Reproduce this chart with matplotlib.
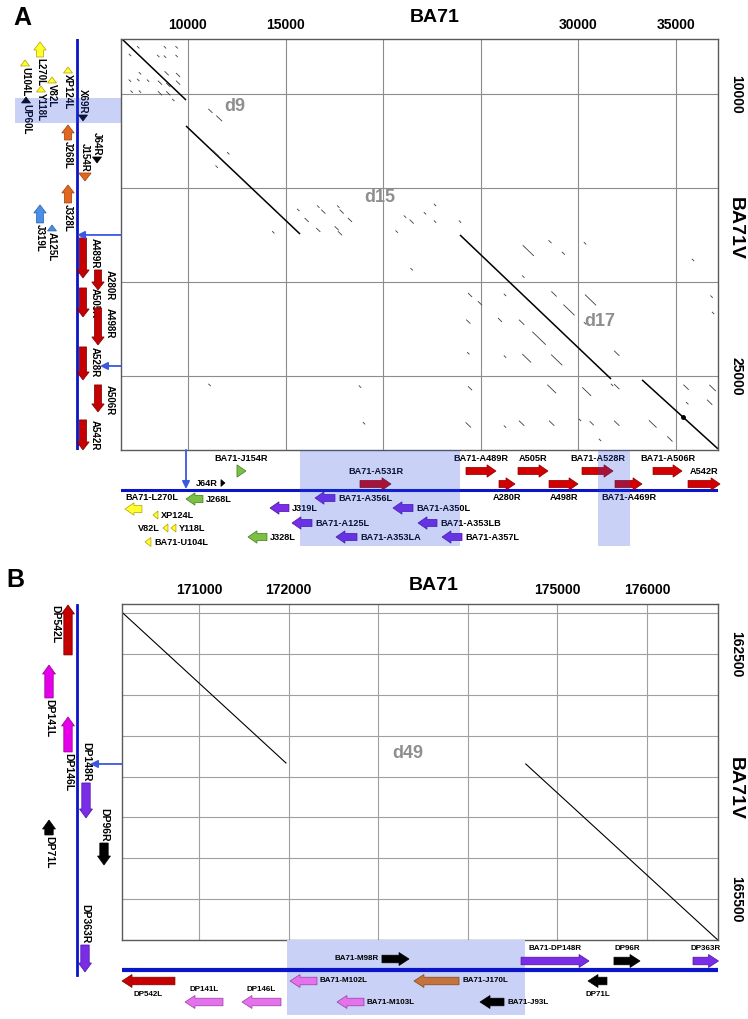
import matplotlib
matplotlib.use("Agg")
import matplotlib.pyplot as plt
from matplotlib.patches import Polygon, Rectangle

plt.rcParams['font.family'] = ['Liberation Sans', 'DejaVu Sans']
plt.rcParams['font.weight'] = 'bold'

W, H = 748, 1019

# ---------------- panel A : BA71 (x) vs BA71V (y), bp ----------------
a_xlim = (6570, 37150)
a_ylim = (28940, 7075)
a_xgrid = [10000, 15000, 20000, 25000, 30000, 35000]
a_xlabels = ['10000', '15000', '', '', '30000', '35000']
a_ygrid = [10000, 15000, 20000, 25000]
a_ylabels = ['10000', '', '', '25000']

# main alignment segments ((x0, y0), (x1, y1))
a_diag = [((6620, 7075), (9900, 10320)),
          ((9900, 11700), (15740, 17450)),
          ((23935, 17500), (31670, 25160)),
          ((33260, 25210), (37150, 28880))]

# short repeat hits: centre x, centre y, length
a_dash_x = [7454, 8822, 9421, 7029, 8479, 8822, 9421, 7541, 8909, 9493, 7029, 7454, 7956,
            8566, 8991, 9493, 7116, 7541, 8566, 8991, 9247,
            11150, 11600, 11419, 12065, 11470,
            15651, 16081, 16675, 16931, 17700, 17874, 18299, 16675, 17618, 17787, 14370,
            20692, 21117, 21459, 22141, 22654, 22654, 23935,
            21459, 24447, 24959, 24359, 24359, 24447, 24359, 26240, 25984, 26240, 27434,
            28545, 29228, 27178, 28750, 29518, 27092, 27984, 27349, 28888, 26240, 27092,
            28631, 28631, 30338, 30620, 30338, 30424, 30082, 31106, 31963, 31963, 31963,
            30682, 33806, 34683, 35574, 36722, 31722, 35515, 19016, 18812, 11107,
            35871, 36822, 36897, 36870]
a_dash_y = [7516, 7516, 7516, 7926, 7979, 8016, 7979, 8899, 8899, 8989, 9293, 9255, 9293,
            9399, 9521, 9399, 9876, 9876, 9963, 9963, 10319,
            10900, 11300, 13154, 13154, 13867,
            16170, 16702, 15993, 16259, 15993, 16259, 16702, 17234, 17144, 17410, 17357,
            17322, 16524, 16790, 16347, 15904, 16790, 16790,
            19324, 20692, 21135, 22110, 23793, 25655, 27605, 20692, 22022, 23971, 18332,
            17856, 18474, 19716, 20639, 21489, 22144, 22995, 24058, 24149, 27695, 27516,
            25692, 27516, 17942, 20957, 22197, 25834, 27340, 28404, 23793, 25568, 27516,
            27516, 27553, 28351, 26452, 26399, 25479, 25600, 27516, 25568, 25479,
            18830, 20782, 21650, 25638]
a_dash_len = [150, 150, 150, 150, 150, 150, 150, 150, 300, 300, 150, 150, 150,
              300, 300, 300, 150, 150, 300, 300, 150,
              300, 450, 500, 150, 150,
              150, 300, 150, 300, 150, 300, 300, 300, 300, 300, 150,
              150, 150, 300, 150, 150, 150, 150,
              150, 300, 300, 300, 150, 300, 400, 150, 300, 150, 900,
              200, 200, 150, 400, 900, 400, 1100, 700, 900, 150, 400,
              700, 400, 150, 900, 150, 700, 150, 150, 400, 400, 400,
              300, 600, 400, 150, 400, 150, 400, 150, 150, 150,
              150, 150, 150, 500]
a_spot = (35360, 27180)

a_deletions = ['d9', 'd15', 'd17']
a_del_x = [12408, 19836, 31107]
a_del_y = [10691, 15532, 22127]

# genes along BA71 (bottom track): name, start, end, strand, family
a_bottom = [("BA71-J154R", 12510, 12971, "R", "green"),
            ("J64R", 11691, 11896, "R", "black"),
            ("BA71-A531R", 18812, 20400, "R", "red"),
            ("BA71-A489R", 24242, 25779, "R", "red"),
            ("A505R", 26906, 28443, "R", "red"),
            ("BA71-A528R", 30185, 31773, "R", "red"),
            ("BA71-A506R", 33822, 35308, "R", "red"),
            ("A542R", 35615, 37255, "R", "red"),
            ("A280R", 25932, 26752, "R", "red"),
            ("A498R", 28494, 29980, "R", "red"),
            ("BA71-A469R", 31875, 33258, "R", "red"),
            ("BA71-L270L", 6773, 7643, "L", "yellow"),
            ("J268L", 9898, 10768, "L", "green"),
            ("XP124L", 8207, 8463, "L", "yellow"),
            ("V82L", 8719, 8975, "L", "yellow"),
            ("Y118L", 9129, 9385, "L", "yellow"),
            ("BA71-U104L", 7797, 8105, "L", "yellow"),
            ("J319L", 14201, 15174, "L", "purple"),
            ("J328L", 13074, 14047, "L", "green"),
            ("BA71-A356L", 16506, 17531, "L", "purple"),
            ("BA71-A125L", 15328, 16353, "L", "purple"),
            ("BA71-A353LA", 17582, 18658, "L", "purple"),
            ("BA71-A350L", 20502, 21527, "L", "purple"),
            ("BA71-A353LB", 21783, 22756, "L", "purple"),
            ("BA71-A357L", 23012, 24037, "L", "purple")]
# lane (pixel row) and label side for each bottom gene
a_bottom_lay = [(471, 'above'), (483, 'left'), (484, 'above'), (471, 'above'), (471, 'above'),
                (471, 'above'), (471, 'above'), (484, 'above'), (484, 'below'), (484, 'below'),
                (484, 'below'), (509, 'above_l'), (499, 'right'), (515, 'right'), (528, 'left'),
                (528, 'right'), (542, 'right'), (508, 'right'), (537, 'right'), (498, 'right'),
                (523, 'right'), (537, 'right'), (508, 'right'), (523, 'right'), (537, 'right')]

# genes along BA71V (left track)
a_left = [("L270L", 7234, 8032, "L", "yellow"),
          ("U104L", 8192, 8511, "L", "yellow"),
          ("XP124L", 8564, 8883, "L", "yellow"),
          ("V82L", 9096, 9415, "L", "yellow"),
          ("Y118L", 9574, 9894, "L", "yellow"),
          ("UP60L", 10160, 10479, "L", "black"),
          ("X69R", 11117, 11436, "R", "black"),
          ("J268L", 11649, 12447, "L", "orange"),
          ("J64R", 13351, 13670, "R", "black"),
          ("J154R", 14202, 14628, "R", "orange"),
          ("J328L", 14840, 15798, "L", "orange"),
          ("J319L", 15904, 16861, "L", "blue"),
          ("A125L", 16968, 17287, "L", "blue"),
          ("A489R", 17659, 19787, "R", "darkred"),
          ("A280R", 19361, 20425, "R", "darkred"),
          ("A505R", 20319, 21861, "R", "darkred"),
          ("A498R", 21383, 23351, "R", "darkred"),
          ("A528R", 23457, 25213, "R", "darkred"),
          ("A506R", 25478, 26914, "R", "darkred"),
          ("A542R", 27340, 28936, "R", "darkred")]
a_left_lay = [(40, 'below'), (25, 'below'), (68, 'below'), (52, 'below'), (41, 'below'),
              (26, 'below'), (83, 'above'), (68, 'below'), (97, 'above'), (85, 'above'),
              (68, 'below'), (40, 'below'), (52, 'below'), (83, 'right'), (98, 'right'),
              (83, 'right'), (98, 'right'), (83, 'right'), (98, 'right'), (83, 'right')]

a_shade_x = [(15738, 23935), (31004, 32644)]
a_shade_y = (10213, 11542)
a_pointer_y = [17500, 24470]
a_pointer_x = 9900

# ---------------- panel B ----------------
b_xlim = (170141, 176792)
b_ylim = (165998, 161890)
b_xgrid = [171000, 172000, 173000, 174000, 175000, 176000]
b_xlabels = ['171000', '172000', '', '', '175000', '176000']
b_ygrid = [162000, 162500, 163000, 163500, 164000, 164500, 165000, 165500]
b_ylabels = ['', '162500', '', '', '', '', '', '165500']
b_diag = [((170150, 162000), (171971, 163834)),
          ((174647, 163846), (176790, 165998))]
b_del_x, b_del_y = 173332, 163712

b_bottom = [("BA71-M98R", 173042, 173344, "R", "black"),
            ("BA71-DP148R", 174594, 175353, "R", "purple"),
            ("DP96R", 175631, 175922, "R", "black"),
            ("DP363R", 176513, 176798, "R", "purple"),
            ("DP542L", 170141, 170732, "L", "darkred"),
            ("DP141L", 170844, 171268, "L", "orchid"),
            ("DP146L", 171480, 171915, "L", "orchid"),
            ("BA71-M102L", 172016, 172317, "L", "orchid"),
            ("BA71-J170L", 173399, 173902, "L", "brown"),
            ("BA71-M103L", 172540, 172841, "L", "orchid"),
            ("BA71-J93L", 174136, 174404, "L", "black"),
            ("DP71L", 175341, 175553, "L", "black")]
b_bottom_lay = [(959, 'left'), (961, 'above'), (961, 'above'), (961, 'above'), (981, 'below'),
                (1002, 'above'), (1002, 'above'), (981, 'right'), (981, 'right'),
                (1002, 'right'), (1002, 'right'), (981, 'below')]

b_left = [("DP542L", 161902, 162513, "L", "darkred"),
          ("DP141L", 162636, 163039, "L", "magenta"),
          ("DP146L", 163271, 163699, "L", "magenta"),
          ("DP148R", 164078, 164506, "R", "purple"),
          ("DP71L", 164531, 164714, "L", "black"),
          ("DP96R", 164812, 165081, "R", "black"),
          ("DP363R", 166059, 166389, "R", "purple")]
b_left_lay = [(68, 'left'), (49, 'below'), (68, 'below'), (86, 'above'), (49, 'below'),
              (104, 'above'), (85, 'above')]
b_shade_x = (171982, 174638)
b_pointer_y = 163846

colors = {"yellow": ("#ffff2e", "#b0a000"), "orange": ("#e2661e", "#9a4010"),
          "blue": ("#4a8fe6", "#2a5fa8"), "darkred": ("#c40000", "#7a0000"),
          "red": ("#d20000", "#8a0000"), "black": ("#000000", "#000000"),
          "green": ("#7cc043", "#3d7a1e"), "purple": ("#7a2ce6", "#4a12a0"),
          "magenta": ("#e400e8", "#900090"), "orchid": ("#e472ec", "#9a3aa0"),
          "brown": ("#c4733c", "#80451c")}
LINE = "#0a14c8"
POINT = "#3a58e0"
SHADE = "#2848e0"
SHADE_B = "#c9d1f7"
DEL = "#8e8e8e"

fig = plt.figure(figsize=(W / 100, H / 100), dpi=100)


def px_axes(l, t, r, b):
    return fig.add_axes([l / W, 1 - b / H, (r - l) / W, (b - t) / H])


def ftext(x, y, s, **kw):
    fig.text(x / W, 1 - y / H, s, **kw)


def gene(ax, s, e, strand, lane, fam, upp, vertical, body, head, hl):
    fc, ec = colors[fam]
    L = e - s
    if L < hl * upp:
        head = min(head, 0.55 * L / upp + 1.2)
        body = min(body, head)
    hlen = min(hl * upp, L)
    if strand == "R":
        tip, base, neck = e, s, e - hlen
    else:
        tip, base, neck = s, e, s + hlen
    pts = [(base, lane - body), (neck, lane - body), (neck, lane - head), (tip, lane),
           (neck, lane + head), (neck, lane + body), (base, lane + body)]
    if vertical:
        pts = [(q, p) for p, q in pts]
    ax.add_patch(Polygon(pts, closed=True, fc=fc, ec=ec, lw=0.5, clip_on=False, zorder=3))


def h_label(ax, name, s, e, lane, side, upp, fs):
    off = dict(above=(0.5 * (s + e), lane - 12.5, 'center'),
               above_l=(s, lane - 11.5, 'left'),
               below=(0.5 * (s + e), lane + 13, 'center'),
               right=(e + 3 * upp, lane, 'left'),
               left=(s - 3 * upp, lane, 'right'))[side]
    ax.text(off[0], off[1], name, ha=off[2], va='center', fontsize=fs, clip_on=False, zorder=4)


def v_label(ax, name, s, e, col, side, upp, fs):
    if side == 'below':
        ax.text(col, e + 1.5 * upp, name, rotation=-90, ha='center', va='top', fontsize=fs)
    elif side == 'above':
        ax.text(col, s - 1.5 * upp, name, rotation=-90, ha='center', va='bottom', fontsize=fs)
    elif side == 'right':
        ax.text(col + 12, s, name, rotation=-90, ha='center', va='top', fontsize=fs)
    else:
        ax.text(col - 13, s, name, rotation=-90, ha='center', va='top', fontsize=fs)


def dotplot(ax, xlim, ylim, xg, xl, yg, yl, gcol):
    ax.set_xlim(xlim)
    ax.set_ylim(ylim)
    ax.set_xticks(xg)
    ax.set_xticklabels(xl)
    ax.set_yticks(yg)
    ax.set_yticklabels(yl)
    ax.xaxis.tick_top()
    ax.yaxis.tick_right()
    ax.tick_params(length=0, labelsize=10, pad=5)
    ax.tick_params(axis='y', labelrotation=-90, pad=8)
    for lab in ax.get_yticklabels():
        lab.set_va('center')
    ax.grid(True, color=gcol, lw=0.8)
    ax.set_axisbelow(True)
    for sp in ax.spines.values():
        sp.set_color('#5a5a5a')
        sp.set_linewidth(1.0)


# ================= panel A =================
axA = px_axes(121, 39, 718, 450)
dotplot(axA, a_xlim, a_ylim, a_xgrid, a_xlabels, a_ygrid, a_ylabels, '#8c8c8c')
for (x0, y0), (x1, y1) in a_diag:
    axA.plot([x0, x1], [y0, y1], color='black', lw=1.1, solid_capstyle='butt')
for x, y, L in zip(a_dash_x, a_dash_y, a_dash_len):
    h = 0.3 * L
    axA.plot([x - h, x + h], [y - h, y + h], color='#3c3c3c', lw=0.6)
axA.plot(*a_spot, 'o', color='black', ms=2.5)
for name, x, y in zip(a_deletions, a_del_x, a_del_y):
    axA.text(x, y, name, color=DEL, fontsize=13, ha='center', va='center')

upp_ax = (a_xlim[1] - a_xlim[0]) / (718 - 121)
upp_ay = (a_ylim[0] - a_ylim[1]) / (450 - 39)

trA = px_axes(121, 450, 718, 550)
trA.set_xlim(a_xlim)
trA.set_ylim(550, 450)
trA.axis('off')
trA.axhline(490, color=LINE, lw=2.2, zorder=2)
for (name, s, e, strand, fam), (lane, side) in zip(a_bottom, a_bottom_lay):
    gene(trA, s, e, strand, lane, fam, upp_ax, False, 3.6, 6.2, 9)
    h_label(trA, name, s, e, lane, side, upp_ax, 6.6)
for x0, x1 in a_shade_x:
    trA.add_patch(Rectangle((x0, 450), x1 - x0, 96, fc=SHADE, alpha=0.25, lw=0, zorder=5))
trA.annotate('', xy=(a_pointer_x, 489), xytext=(a_pointer_x, 450),
             arrowprops=dict(arrowstyle='-|>', color=POINT, lw=1.3, mutation_scale=11,
                             shrinkA=0, shrinkB=0))

tlA = px_axes(0, 39, 121, 450)
tlA.set_xlim(0, 121)
tlA.set_ylim(a_ylim)
tlA.axis('off')
tlA.axvline(77, color=LINE, lw=2.0, zorder=2)
for (name, s, e, strand, fam), (col, side) in zip(a_left, a_left_lay):
    gene(tlA, s, e, strand, col, fam, upp_ay, True, 3.6, 6.2, 8)
    v_label(tlA, name, s, e, col, side, upp_ay, 7)
tlA.add_patch(Rectangle((15, a_shade_y[0]), 106, a_shade_y[1] - a_shade_y[0],
                        fc=SHADE, alpha=0.25, lw=0, zorder=5))
for y in a_pointer_y:
    tlA.annotate('', xy=(77 if y == a_pointer_y[0] else 100, y), xytext=(121, y),
                 arrowprops=dict(arrowstyle='-|>', color=POINT, lw=1.3, mutation_scale=11,
                                 shrinkA=0, shrinkB=0))

ftext(22, 18, 'A', fontsize=18, ha='center', va='center')
ftext(435, 17, 'BA71', fontsize=14, ha='center', va='center')
ftext(735, 228, 'BA71V', fontsize=14, ha='center', va='center', rotation=-90)

# ================= panel B =================
axB = px_axes(122, 604, 718, 940)
dotplot(axB, b_xlim, b_ylim, b_xgrid, b_xlabels, b_ygrid, b_ylabels, '#a0a0a0')
for (x0, y0), (x1, y1) in b_diag:
    axB.plot([x0, x1], [y0, y1], color='black', lw=0.8)
axB.text(b_del_x, b_del_y, 'd49', color=DEL, fontsize=13, ha='center', va='center')

upp_bx = (b_xlim[1] - b_xlim[0]) / (718 - 122)
upp_by = (b_ylim[0] - b_ylim[1]) / (940 - 604)

trB = px_axes(122, 940, 718, 1019)
trB.set_xlim(b_xlim)
trB.set_ylim(1019, 940)
trB.axis('off')
trB.axhline(970, color=LINE, lw=3.0, zorder=2)
for (name, s, e, strand, fam), (lane, side) in zip(b_bottom, b_bottom_lay):
    gene(trB, s, e, strand, lane, fam, upp_bx, False, 3.8, 6.5, 10)
    h_label(trB, name, s, e, lane, side, upp_bx, 5.8)
trB.add_patch(Rectangle((b_shade_x[0], 940), b_shade_x[1] - b_shade_x[0], 75,
                        fc=SHADE_B, lw=0, zorder=1))

tlB = px_axes(0, 604, 122, 1019)
tlB.set_xlim(0, 122)
tlB.set_ylim(b_ylim[1] + (1019 - 604) * upp_by, b_ylim[1])
tlB.axis('off')
tlB.plot([77, 77], [b_ylim[1] + upp_by, b_ylim[1] + 371 * upp_by], color=LINE, lw=2.0)
for (name, s, e, strand, fam), (col, side) in zip(b_left, b_left_lay):
    gene(tlB, s, e, strand, col, fam, upp_by, True, 4.2, 6.5, 9)
    v_label(tlB, name, s, e, col, side, upp_by, 7.5)
tlB.annotate('', xy=(90, b_pointer_y), xytext=(122, b_pointer_y),
             arrowprops=dict(arrowstyle='-|>', color=POINT, lw=1.3, mutation_scale=11,
                             shrinkA=0, shrinkB=0))

ftext(15, 580, 'B', fontsize=18, ha='center', va='center')
ftext(434, 585, 'BA71', fontsize=14, ha='center', va='center')
ftext(735, 788, 'BA71V', fontsize=14, ha='center', va='center', rotation=-90)

fig.savefig('out.png', dpi=100)
